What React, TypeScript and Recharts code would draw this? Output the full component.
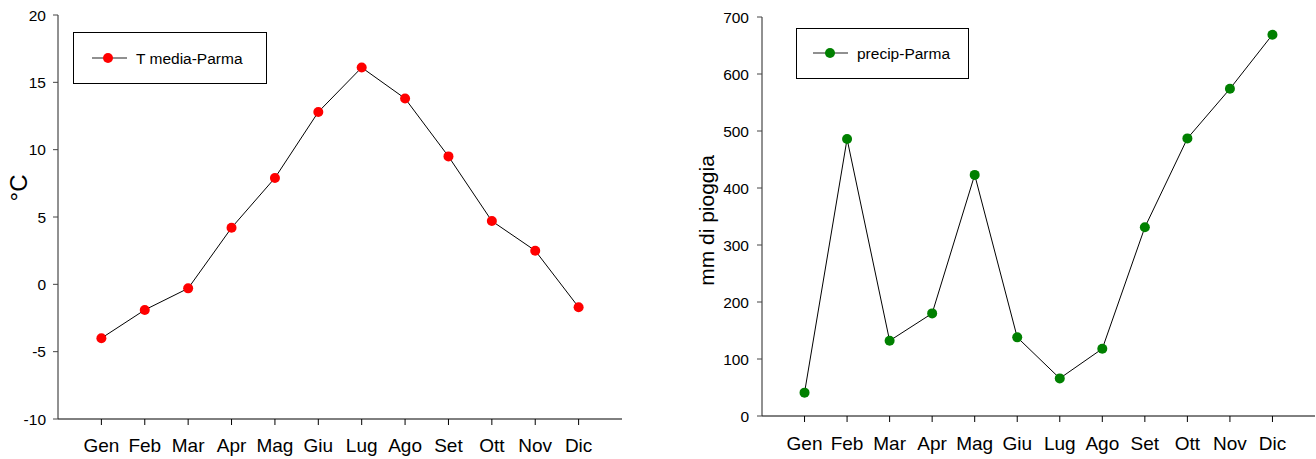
import React from "react";
import { LineChart, Line, XAxis, YAxis, Legend } from "recharts";

const MONTHS = ["Gen", "Feb", "Mar", "Apr", "Mag", "Giu", "Lug", "Ago", "Set", "Ott", "Nov", "Dic"];
const MONTH_POS = [1, 2, 3, 4, 5, 6, 7, 8, 9, 10, 11, 12];
const TEMP = [-4.0, -1.9, -0.3, 4.2, 7.9, 12.8, 16.1, 13.8, 9.5, 4.7, 2.5, -1.7];
const PRECIP = [41, 486, 132, 180, 423, 138, 66, 118, 331, 487, 574, 669];
const TEMP_TICKS = [-10, -5, 0, 5, 10, 15, 20];
const PRECIP_TICKS = [0, 100, 200, 300, 400, 500, 600, 700];

const tempData = MONTH_POS.map((m, i) => ({ m, v: TEMP[i] }));
const precipData = MONTH_POS.map((m, i) => ({ m, v: PRECIP[i] }));

const FONT = "'Liberation Sans', Arial, sans-serif";
const fmtMonth = (v: number) => MONTHS[v - 1] ?? "";

function LegendBox({ w, h, lx1, lx2, cx, cy, tx, color, label }: any) {
  return (
    <div style={{ width: w, height: h, border: "1px solid #000", boxSizing: "border-box", background: "#fff" }}>
      <svg width={w - 2} height={h - 2} style={{ display: "block" }}>
        <line x1={lx1} x2={lx2} y1={cy} y2={cy} stroke="#222" strokeWidth={1.2} />
        <circle cx={cx} cy={cy} r={5} fill={color} />
        <text x={tx} y={cy + 5.5} fontFamily={FONT} fontSize={15.5} fill="#000">{label}</text>
      </svg>
    </div>
  );
}

export default function App() {
  return (
    <div style={{ position: "absolute", left: 0, top: 0, width: 1316, height: 459, overflow: "hidden", background: "#fff", fontFamily: FONT }}>
      <div style={{ position: "absolute", left: 0, top: 0 }}>
        <LineChart width={640} height={459} data={tempData} margin={{ top: 15, right: 18, bottom: 0, left: 0 }}>
          <XAxis
            dataKey="m"
            type="number"
            domain={[0, 13]}
            ticks={MONTH_POS}
            tickFormatter={fmtMonth}
            height={40}
            tickSize={6}
            tickMargin={14}
            axisLine={{ stroke: "#000" }}
            tickLine={{ stroke: "#000" }}
            tick={{ fill: "#000", fontSize: 19, fontFamily: FONT }}
            interval={0}
          />
          <XAxis xAxisId="top" orientation="top" type="number" domain={[0, 13]} tick={false} tickLine={false} height={0} axisLine={{ stroke: "#777", strokeWidth: 1.5 }} />
          <YAxis
            type="number"
            domain={[-10, 20]}
            ticks={TEMP_TICKS}
            width={58}
            tickSize={5}
            tickMargin={7}
            axisLine={{ stroke: "#222" }}
            tickLine={{ stroke: "#444" }}
            tick={{ fill: "#000", fontSize: 15.5, fontFamily: FONT }}
            interval={0}
            label={{ value: "°C", angle: -90, position: "center", dx: -11, dy: -29, fontSize: 24, fill: "#000", fontFamily: FONT }}
          />
          <YAxis yAxisId="r" orientation="right" type="number" domain={[0, 1]} tick={false} tickLine={false} width={0} axisLine={{ stroke: "#333", strokeWidth: 1.5 }} />
          <Legend
            verticalAlign="middle"
            align="center"
            layout="horizontal"
            wrapperStyle={{ left: 73, top: 32, width: 194, height: 52 }}
            content={() => (
              <LegendBox w={194} h={52} lx1={18} lx2={53} cx={34} cy={25} tx={62} color="#ff0000" label="T media-Parma" />
            )}
          />
          <Line
            type="linear"
            dataKey="v"
            name="T media-Parma"
            stroke="#000"
            strokeWidth={1}
            dot={{ r: 5, fill: "#ff0000", stroke: "#ff0000", strokeWidth: 0 }}
            activeDot={false}
            isAnimationActive={false}
          />
        </LineChart>
      </div>
      <div style={{ position: "absolute", left: 660, top: 0 }}>
        <LineChart width={656} height={459} data={precipData} margin={{ top: 17, right: 1, bottom: 0, left: 0 }}>
          <XAxis
            dataKey="m"
            type="number"
            domain={[0, 13]}
            ticks={MONTH_POS}
            tickFormatter={fmtMonth}
            height={43}
            tickSize={6}
            tickMargin={15}
            axisLine={{ stroke: "#000" }}
            tickLine={{ stroke: "#000" }}
            tick={{ fill: "#000", fontSize: 19, fontFamily: FONT }}
            interval={0}
          />
          <XAxis xAxisId="top" orientation="top" type="number" domain={[0, 13]} tick={false} tickLine={false} height={0} axisLine={{ stroke: "#777", strokeWidth: 1.5 }} />
          <YAxis
            type="number"
            domain={[0, 700]}
            ticks={PRECIP_TICKS}
            width={102}
            tickSize={5}
            tickMargin={8}
            axisLine={{ stroke: "#222" }}
            tickLine={{ stroke: "#444" }}
            tick={{ fill: "#000", fontSize: 15.5, fontFamily: FONT }}
            interval={0}
            label={{ value: "mm di pioggia", angle: -90, position: "center", dx: -4, dy: 4, fontSize: 21, fill: "#000", fontFamily: FONT }}
          />
          <Legend
            verticalAlign="middle"
            align="center"
            layout="horizontal"
            wrapperStyle={{ left: 136, top: 28, width: 173, height: 51 }}
            content={() => (
              <LegendBox w={173} h={51} lx1={16} lx2={51} cx={33} cy={24} tx={60} color="#008000" label="precip-Parma" />
            )}
          />
          <Line
            type="linear"
            dataKey="v"
            name="precip-Parma"
            stroke="#000"
            strokeWidth={1}
            dot={{ r: 5, fill: "#008000", stroke: "#008000", strokeWidth: 0 }}
            activeDot={false}
            isAnimationActive={false}
          />
        </LineChart>
      </div>
    </div>
  );
}
